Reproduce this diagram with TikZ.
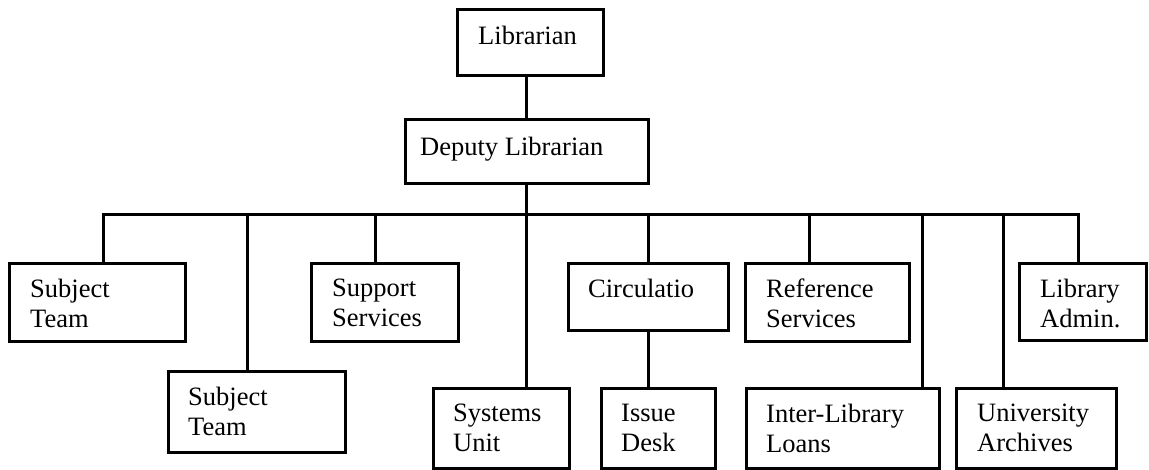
\documentclass[tikz,border=0pt]{standalone}
\usepackage{fontspec}
\setmainfont{Liberation Serif}
\begin{document}
\begin{tikzpicture}[x=1pt,y=-1pt,
  box/.style={draw, line width=3.4pt, inner sep=0pt, anchor=north west},
  lbl/.style={inner sep=0pt, anchor=north west, align=left, font=\rmfamily\fontsize{26.5}{30}\selectfont},
  conn/.style={line width=3pt, line join=miter}]
\useasboundingbox (0,0) rectangle (1149,469);
% boxes
\node[box, minimum width=146pt, minimum height=66pt] (lib) at (456,8) {};
\node[box, minimum width=243pt, minimum height=64pt] (dep) at (404,118) {};
\node[box, minimum width=176pt, minimum height=78pt] (st1) at (8,262) {};
\node[box, minimum width=177pt, minimum height=81pt] (st2) at (167,370) {};
\node[box, minimum width=147pt, minimum height=78pt] (sup) at (310,262) {};
\node[box, minimum width=136pt, minimum height=80pt] (sys) at (432,387) {};
\node[box, minimum width=160pt, minimum height=67pt] (circ) at (567,262) {};
\node[box, minimum width=114pt, minimum height=80pt] (issue) at (600,387) {};
\node[box, minimum width=164pt, minimum height=78pt] (ref) at (744,262) {};
\node[box, minimum width=193pt, minimum height=80pt] (ill) at (745,387) {};
\node[box, minimum width=160pt, minimum height=80pt] (ua) at (955,387) {};
\node[box, minimum width=127pt, minimum height=77pt] (la) at (1018,262) {};
% labels
\node[lbl] (libt) at (478,26) {Librarian};
\node[lbl] (dept) at (420,137) {Deputy Librarian};
\node[lbl] (st1t) at (30,279) {Subject\\Team};
\node[lbl] (st2t) at (188,387) {Subject\\Team};
\node[lbl] (supt) at (332,279) {Support\\Services};
\node[lbl] (syst) at (453,404) {Systems\\Unit};
\node[lbl] (circt) at (588,279) {Circulatio};
\node[lbl] (issuet) at (621,404) {Issue\\Desk};
\node[lbl] (reft) at (766,279) {Reference\\Services};
\node[lbl] (illt) at (766,404) {Inter-Library\\Loans};
\node[lbl] (uat) at (977,404) {University\\Archives};
\node[lbl] (lat) at (1040,279) {Library\\Admin.};
% junctions on the bus
\coordinate (j1) at (103,214);
\coordinate (j2) at (247,214);
\coordinate (j3) at (375,214);
\coordinate (j4) at (526,214);
\coordinate (j5) at (648,214);
\coordinate (j6) at (809,214);
\coordinate (j7) at (922,214);
\coordinate (j8) at (1003,214);
\coordinate (j9) at (1078,214);
% connectors
\draw[conn] (lib.south -| j4) -- (dep.north -| j4);
\draw[conn] (dep.south -| j4) -- (sys.north -| j4);
\draw[conn] (st1.north -| j1) -- (j1) -- (j9) -- (la.north -| j9);
\draw[conn] (j2) -- (st2.north -| j2);
\draw[conn] (j3) -- (sup.north -| j3);
\draw[conn] (j5) -- (circ.north -| j5);
\draw[conn] (circ.south -| j5) -- (issue.north -| j5);
\draw[conn] (j6) -- (ref.north -| j6);
\draw[conn] (j7) -- (ill.north -| j7);
\draw[conn] (j8) -- (ua.north -| j8);
\end{tikzpicture}
\end{document}
